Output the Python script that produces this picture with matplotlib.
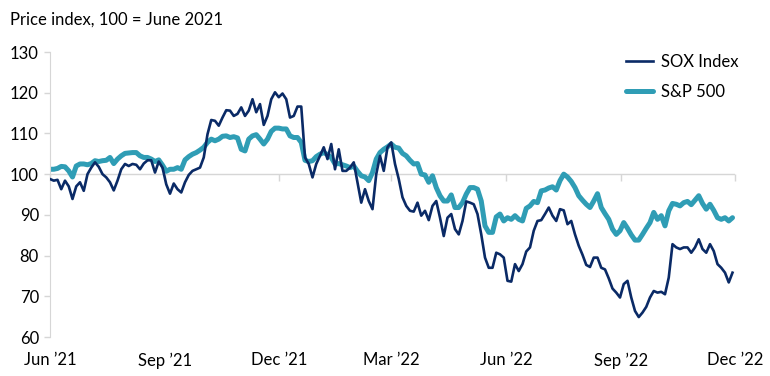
import matplotlib
matplotlib.use("Agg")
import matplotlib.pyplot as plt
import pandas as pd

plt.rcParams['font.family'] = ['Lato', 'DejaVu Sans']

# 数据：每3天读取一次（自 2021-06-01 起）
dates = pd.date_range('2021-06-01', periods=183, freq='3D')

sox = [
    98.8, 98.4, 98.6, 96.3, 98.4, 97.0, 93.9, 97.0, 98.0, 95.9,
    100.0, 101.6, 102.9, 101.8, 100.0, 99.2, 98.0, 96.0, 98.4, 101.2,
    102.5, 102.0, 102.5, 102.3, 101.2, 102.6, 103.4, 103.4, 100.4, 103.1,
    101.6, 97.5, 95.2, 97.7, 96.3, 95.5, 98.0, 99.8, 100.8, 101.2,
    101.6, 104.1, 109.8, 113.3, 113.1, 111.9, 113.9, 115.7, 115.6, 114.3,
    114.8, 116.4, 114.3, 115.6, 118.4, 115.2, 117.2, 112.1, 114.3, 118.4,
    120.1, 118.9, 119.8, 118.4, 113.9, 114.3, 116.6, 116.6, 104.1, 102.5,
    99.2, 102.5, 104.5, 106.6, 103.7, 107.4, 101.2, 106.1, 100.8, 100.8,
    101.6, 102.9, 98.0, 93.0, 96.3, 93.4, 91.4, 100.0, 104.5, 100.8,
    106.6, 107.8, 102.5, 98.8, 94.3, 92.2, 91.0, 90.8, 93.0, 89.8,
    91.0, 88.7, 92.2, 93.4, 89.3, 84.8, 89.3, 90.2, 86.5, 85.2,
    88.5, 93.3, 93.0, 92.6, 90.2, 85.2, 79.5, 77.0, 77.0, 80.7,
    80.3, 79.5, 73.8, 73.6, 77.9, 76.2, 77.9, 81.0, 82.0, 86.1,
    88.5, 88.7, 90.2, 91.8, 89.8, 88.5, 91.4, 91.1, 87.7, 88.5,
    85.2, 82.4, 80.2, 77.7, 77.2, 79.5, 79.5, 77.0, 76.6, 74.4,
    71.9, 70.9, 69.7, 73.0, 73.8, 69.7, 66.4, 64.9, 66.0, 67.4,
    69.7, 71.3, 70.9, 71.1, 70.5, 74.6, 82.8, 82.0, 81.6, 82.0,
    82.0, 80.7, 82.0, 84.0, 81.6, 80.7, 82.8, 81.1, 77.9, 77.0,
    75.8, 73.4, 75.8,
]

spx = [
    101.2, 101.2, 101.4, 101.9, 101.8, 100.8, 99.3, 102.0, 102.5, 102.5,
    102.3, 102.6, 103.3, 103.1, 103.3, 103.4, 104.1, 102.6, 103.7, 104.5,
    105.1, 105.2, 105.3, 105.3, 104.5, 104.1, 104.1, 103.7, 103.1, 103.5,
    102.2, 100.7, 101.2, 101.2, 101.6, 101.2, 103.5, 104.3, 104.9, 105.3,
    105.9, 106.6, 107.8, 108.6, 108.2, 108.6, 109.3, 109.4, 109.0, 109.2,
    108.9, 106.1, 105.7, 108.6, 109.4, 109.7, 108.6, 107.4, 108.6, 110.5,
    111.3, 111.3, 111.1, 111.1, 109.4, 109.0, 109.0, 107.8, 103.4, 103.1,
    103.3, 104.3, 104.9, 105.3, 104.8, 104.1, 102.5, 102.6, 102.3, 102.0,
    101.6, 102.0, 100.7, 99.6, 99.3, 98.4, 100.4, 103.7, 105.3, 106.1,
    106.7, 107.4, 106.6, 106.4, 105.1, 104.5, 103.4, 102.5, 102.6, 100.0,
    99.8, 98.0, 99.6, 96.7, 94.7, 93.4, 93.4, 94.9, 91.8, 91.8,
    93.0, 95.1, 96.7, 96.7, 96.3, 93.4, 87.3, 85.7, 85.7, 89.5,
    90.2, 88.5, 89.3, 88.9, 89.8, 88.9, 88.5, 91.6, 92.2, 93.3,
    93.0, 95.9, 96.1, 96.6, 96.9, 96.1, 98.4, 100.0, 99.3, 98.2,
    96.7, 94.7, 93.6, 92.6, 91.8, 93.4, 95.2, 91.8, 90.3, 88.9,
    86.5, 85.2, 86.1, 88.1, 86.7, 85.1, 83.8, 83.8, 85.2, 86.7,
    88.1, 90.6, 88.9, 89.8, 87.3, 91.0, 92.8, 92.6, 92.2, 93.0,
    93.3, 92.5, 93.6, 94.7, 92.8, 91.4, 92.6, 91.1, 89.3, 88.9,
    89.3, 88.5, 89.3,
]

tick_dates = pd.to_datetime(['2021-06-01', '2021-09-01', '2021-12-01', '2022-03-01',
                             '2022-06-01', '2022-09-01', '2022-12-01'])
tick_labels = ['Jun ’21', 'Sep ’21', 'Dec ’21', 'Mar ’22', 'Jun ’22', 'Sep ’22', 'Dec ’22']
y_ticks = [60, 70, 80, 90, 100, 110, 120, 130]

navy = '#0a2a66'
teal = '#2f9db5'
grey = '#d6d6d6'

fig = plt.figure(figsize=(7.7, 3.76), dpi=100)
ax = fig.add_axes([50 / 770, 39 / 376, 685 / 770, 285 / 376])

# 100 基准线
ax.axhline(100, color=grey, lw=1, zorder=1)

ax.plot(dates, spx, color=teal, lw=3.6, solid_capstyle='round', solid_joinstyle='round',
        label='S&P 500', zorder=2)
ax.plot(dates, sox, color=navy, lw=1.9, solid_joinstyle='round', label='SOX Index', zorder=3)

ax.set_xlim(tick_dates[0], tick_dates[-1])
ax.set_ylim(60, 130)
ax.set_yticks(y_ticks)
ax.tick_params(axis='y', length=4, width=1, color=grey, labelsize=12, pad=4)
ax.set_xticks(tick_dates)
ax.set_xticklabels(tick_labels)
ax.tick_params(axis='x', length=0, labelsize=12, pad=11)

for s in ['top', 'right', 'bottom']:
    ax.spines[s].set_visible(False)
ax.spines['left'].set_color(grey)

# 100 处的小刻度
sec = ax.secondary_xaxis((100 - 60) / 70)
sec.set_xticks(tick_dates)
sec.set_xticklabels([])
sec.tick_params(axis='x', length=5, width=1, color=grey, direction='in')
for s in sec.spines.values():
    s.set_visible(False)

handles, labels = ax.get_legend_handles_labels()
leg = fig.legend(handles[::-1], labels[::-1], loc='upper left',
                 bbox_to_anchor=(626 / 770, 1 - 54 / 376), frameon=False,
                 fontsize=12, handlelength=1.6, handletextpad=0.5,
                 labelspacing=0.85, borderpad=0, borderaxespad=0)

fig.text(10 / 770, 1 - 20 / 376, 'Price index, 100 = June 2021', fontsize=12,
         va='center', ha='left')

fig.savefig('out.png', dpi=100)
